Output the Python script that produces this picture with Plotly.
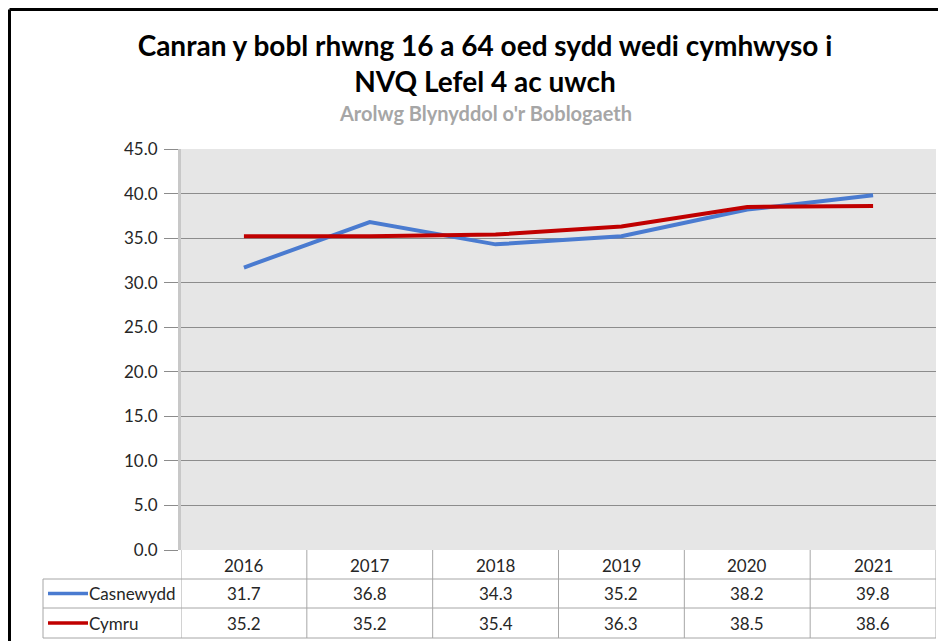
import plotly.graph_objects as go

years = ["2016", "2017", "2018", "2019", "2020", "2021"]
casnewydd = [31.7, 36.8, 34.3, 35.2, 38.2, 39.8]
cymru = [35.2, 35.2, 35.4, 36.3, 38.5, 38.6]
series_names = ["Casnewydd", "Cymru"]
series_colors = ["#4a7bd0", "#c00000"]
y_ticks = [0, 5, 10, 15, 20, 25, 30, 35, 40, 45]

OFF = 8  # page body margin
W, H = 946 - OFF, 641 - OFF
L, R, T, B = 181 - OFF, 936 - OFF, 149 - OFF, 550 - OFF  # plot area pixels (figure coords)
pw, ph = R - L, B - T

def px_x(p):  # p in page pixels
    return (p - OFF - L) / pw

def px_y(p):
    return (B - (p - OFF)) / ph

FONT = "Lato, Noto Sans, sans-serif"
TXT = "#262626"
GRID = "#8c8c8c"
TLINE = "#a6a6a6"

fig = go.Figure()
for name, vals, col, w in zip(series_names, [casnewydd, cymru], series_colors, [4, 4]):
    fig.add_trace(go.Scatter(x=years, y=vals, mode="lines", name=name,
                             line=dict(color=col, width=w), showlegend=False))

shapes = []
annotations = []

row_y = [550, 579, 608, 638]
tab_left = 43
for yy in row_y[1:]:
    shapes.append(dict(type="line", xref="paper", yref="paper", x0=px_x(tab_left), x1=1,
                       y0=px_y(yy), y1=px_y(yy), line=dict(color=TLINE, width=1)))
for i in range(len(years) + 1):
    shapes.append(dict(type="line", xref="x", yref="paper", x0=i - 0.5, x1=i - 0.5,
                       y0=0, y1=px_y(638), line=dict(color=TLINE, width=1)))
shapes.append(dict(type="line", xref="paper", yref="paper", x0=px_x(tab_left), x1=px_x(tab_left),
                   y0=px_y(579), y1=px_y(638), line=dict(color=TLINE, width=1)))

for i, yr in enumerate(years):
    annotations.append(dict(x=i, y=px_y(565), xref="x", yref="paper", text=yr, showarrow=False,
                            font=dict(family=FONT, size=17, color=TXT), xanchor="center", yanchor="middle"))
for r, (name, vals, col) in enumerate(zip(series_names, [casnewydd, cymru], series_colors)):
    yc = px_y((row_y[r + 1] + row_y[r + 2]) / 2)
    for i, v in enumerate(vals):
        annotations.append(dict(x=i, y=yc, xref="x", yref="paper", text=f"{v:.1f}", showarrow=False,
                                font=dict(family=FONT, size=17, color=TXT), xanchor="center", yanchor="middle"))
    shapes.append(dict(type="line", xref="paper", yref="paper", x0=px_x(48), x1=px_x(88),
                       y0=yc, y1=yc, line=dict(color=col, width=3.5)))
    annotations.append(dict(x=px_x(87), y=yc, xref="paper", yref="paper", text=name, showarrow=False,
                            font=dict(family=FONT, size=17, color=TXT), xanchor="left", yanchor="middle"))

# outer chart border (top and left visible)
shapes.append(dict(type="line", xref="paper", yref="paper", x0=px_x(9.5), x1=px_x(960),
                   y0=px_y(9.5), y1=px_y(9.5), line=dict(color="black", width=3)))
shapes.append(dict(type="line", xref="paper", yref="paper", x0=px_x(9.5), x1=px_x(9.5),
                   y0=px_y(9.5), y1=px_y(660), line=dict(color="black", width=3)))

annotations.append(dict(x=px_x(485), y=px_y(113), xref="paper", yref="paper",
                        text="<b>Arolwg Blynyddol o'r Boblogaeth</b>",
                        showarrow=False, font=dict(family=FONT, size=20, color="#a6a6a6"),
                        xanchor="center", yanchor="middle"))

fig.update_layout(
    width=W, height=H,
    margin=dict(l=L, r=W - R, t=T, b=H - B, pad=0),
    paper_bgcolor="white",
    plot_bgcolor="#e6e6e6",
    title=dict(text="<b>Canran y bobl rhwng 16 a 64 oed sydd wedi cymhwyso i<br>NVQ Lefel 4 ac uwch</b>",
               x=(485 - OFF) / W, xanchor="center", xref="container",
               y=1 - (63 - 7 - OFF) / H, yanchor="middle", yref="container",
               font=dict(family=FONT, size=28, color="black")),
    xaxis=dict(type="category", range=[-0.5, 5.5], showticklabels=False, showgrid=False, ticks="",
               zeroline=False, showline=False, fixedrange=True),
    yaxis=dict(range=[0, 45], tickvals=y_ticks, tickformat=".1f", showgrid=True, gridcolor=GRID, gridwidth=1,
               ticks="outside", ticklen=14, tickcolor=GRID, tickwidth=1, showline=True, linecolor="#c8c8c8",
               linewidth=3, zeroline=False, tickfont=dict(family=FONT, size=17, color=TXT), ticklabelstandoff=3),
    shapes=shapes,
    annotations=annotations,
)

fig.write_html("out.html")
